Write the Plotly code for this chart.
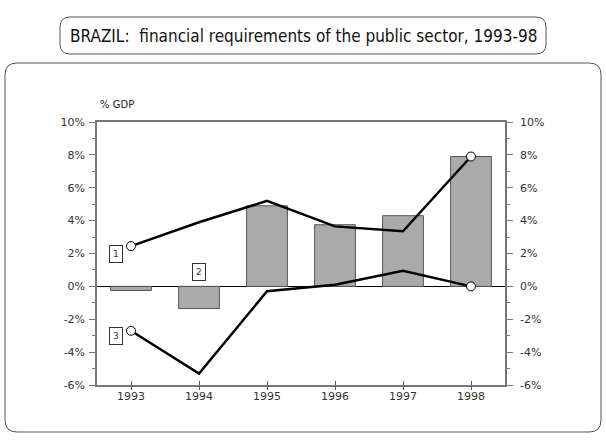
import plotly.graph_objects as go

years = ["1993", "1994", "1995", "1996", "1997", "1998"]
bar_vals = [-0.25, -1.35, 4.9, 3.75, 4.3, 7.9]
line1_vals = [2.45, 3.9, 5.2, 3.65, 3.35, 7.9]
line3_vals = [-2.7, -5.3, -0.3, 0.1, 0.95, 0.0]
ytick_vals = [-6, -4, -2, 0, 2, 4, 6, 8, 10]
ytick_text = ["-6%", "-4%", "-2%", "0%", "2%", "4%", "6%", "8%", "10%"]
title_text = "BRAZIL:  financial requirements of the public sector, 1993-98"

W, H = 606, 445
L, R, T, B = 97, 505, 122, 385

def px(x):
    return (x - L) / (R - L)

def py(y):
    return (B - y) / (B - T)

def rrect(x0, y0, x1, y1, r):
    a0, a1 = px(x0), px(x1)
    b0, b1 = py(y0), py(y1)
    rx = r / (R - L)
    ry = r / (B - T)
    return (f"M{a0+rx},{b0} L{a1-rx},{b0} Q{a1},{b0} {a1},{b0-ry} "
            f"L{a1},{b1+ry} Q{a1},{b1} {a1-rx},{b1} L{a0+rx},{b1} "
            f"Q{a0},{b1} {a0},{b1+ry} L{a0},{b0-ry} Q{a0},{b0} {a0+rx},{b0} Z")

fig = go.Figure()
fig.add_trace(go.Bar(x=years, y=bar_vals, width=0.6,
                     marker=dict(color="#aaaaaa", line=dict(color="#555555", width=1)),
                     showlegend=False, hoverinfo="skip"))
for vals in (line1_vals, line3_vals):
    sizes = [9, 0, 0, 0, 0, 9]
    fig.add_trace(go.Scatter(x=years, y=vals, mode="lines+markers",
                             line=dict(color="black", width=2.5),
                             marker=dict(size=sizes, color="white", opacity=1,
                                         line=dict(color="black", width=1)),
                             showlegend=False, hoverinfo="skip"))
# invisible trace for right axis / outer x ticks
fig.add_trace(go.Scatter(x=years, y=bar_vals, xaxis="x2", yaxis="y2", mode="markers",
                         marker=dict(opacity=0), showlegend=False, hoverinfo="skip"))

axis_font = dict(family="DejaVu Sans", size=11, color="#333333")
yax = dict(range=[-6, 10], tickvals=ytick_vals, ticktext=ytick_text,
           ticks="outside", ticklen=6, tickcolor="#777777", tickwidth=1,
           showline=True, linecolor="#777777", linewidth=1.5,
           showgrid=False, zeroline=True, zerolinecolor="black", zerolinewidth=1,
           tickfont=axis_font, ticklabelstandoff=2,
           minor=dict(ticks="outside", ticklen=3, dtick=1, tickcolor="#777777", showgrid=False))
box_font = dict(family="DejaVu Sans", size=9, color="#333333")
fig.update_layout(
    width=W, height=H,
    margin=dict(l=L, r=W - R, t=T, b=H - B),
    paper_bgcolor="white", plot_bgcolor="white",
    bargap=0.4,
    xaxis=dict(type="category", range=[-0.5, 5.5], ticks="inside", ticklen=4,
               tickcolor="#555555", showline=True, linecolor="#777777", linewidth=1.5,
               mirror=True, showgrid=False, tickfont=axis_font),
    xaxis2=dict(type="category", range=[-0.5, 5.5], overlaying="x", anchor="y", side="bottom",
                ticks="outside", ticklen=4, tickcolor="#555555", showticklabels=False,
                showline=False, showgrid=False),
    yaxis=yax,
    yaxis2=dict(yax, overlaying="y", side="right", zeroline=False, ticklabelstandoff=5),
    shapes=[
        dict(type="path", xref="paper", yref="paper", path=rrect(60, 17, 546, 54, 10),
             line=dict(color="#555555", width=1), layer="below"),
        dict(type="path", xref="paper", yref="paper", path=rrect(5, 63, 601, 432, 12),
             line=dict(color="#555555", width=1), layer="below"),
    ],
    annotations=[
        dict(text=title_text, xref="paper", yref="paper", x=px(303), y=py(36),
             xanchor="center", yanchor="middle", showarrow=False,
             font=dict(family="DejaVu Sans Condensed", size=17, color="#111111")),
        dict(text="% GDP", xref="paper", yref="paper", x=px(98), y=py(104),
             xanchor="left", yanchor="middle", showarrow=False,
             font=dict(family="DejaVu Sans", size=10, color="#222222")),
        dict(text="1", x=0, y=1.95, xshift=-15, showarrow=False, borderpad=3,
             bordercolor="#333333", borderwidth=1, bgcolor="white", font=box_font),
        dict(text="2", x=1, y=0.85, showarrow=False, borderpad=3,
             bordercolor="#333333", borderwidth=1, bgcolor="white", font=box_font),
        dict(text="3", x=0, y=-3.0, xshift=-15, showarrow=False, borderpad=3,
             bordercolor="#333333", borderwidth=1, bgcolor="white", font=box_font),
    ],
)
fig.write_html("out.html")
